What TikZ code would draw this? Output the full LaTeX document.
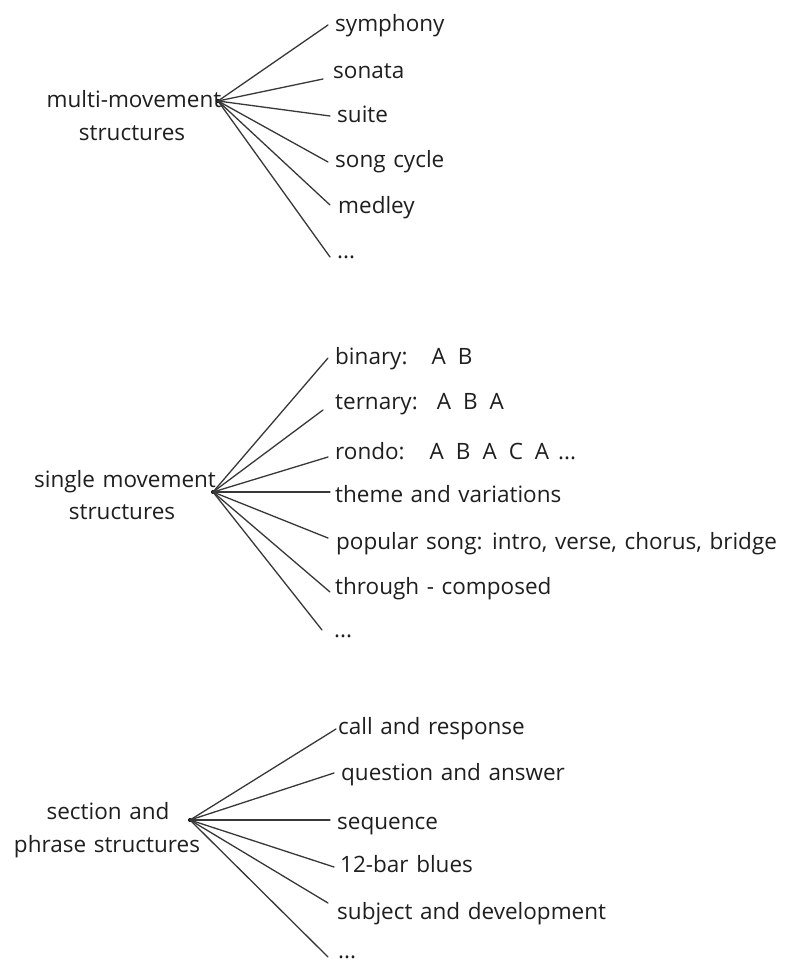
\documentclass[tikz,border=0pt]{standalone}
\usepackage{fontspec}
\setmainfont{Open Sans}[WordSpace=1.3]
\newcommand{\lsp}{\hspace{12pt}}
\begin{document}
\begin{tikzpicture}[x=1pt,y=-1pt,
  lbl/.style={anchor=base west,inner sep=0pt,font=\fontsize{22.5}{26}\selectfont,text=black!88},
  grp/.style={anchor=base,inner sep=0pt,font=\fontsize{22.5}{26}\selectfont,text=black!88},
  con/.style={draw=black!78,line width=1.3pt,line cap=round},
  hubdot/.style={circle,fill=black,inner sep=0pt,minimum size=4pt}]
\useasboundingbox (0,0) rectangle (785,963);
\fill[white] (0,0) rectangle (785,963);

% group 1
\node[hubdot] (h1) at (218,101) {};
\node[grp] (g1a) at (134,107) {multi-movement};
\node[grp] (g1b) at (132,140) {structures};
\node[lbl] (sym) at (335,32) {symphony};
\node[lbl] (son) at (333,79) {sonata};
\node[lbl] (sui) at (337,122) {suite};
\node[lbl] (scy) at (335,167) {song cycle};
\node[lbl] (med) at (338,213) {medley};
\node[lbl] (da) at (337,258) {...};
\draw[con] (h1.center) -- ([xshift=-7pt,yshift=7pt]sym.base west);
\draw[con] (h1.center) -- ([xshift=-10pt]son.base west);
\draw[con] (h1.center) -- ([xshift=-7pt,yshift=6pt]sui.base west);
\draw[con] (h1.center) -- ([xshift=-7pt,yshift=5pt]scy.base west);
\draw[con] (h1.center) -- ([xshift=-8pt,yshift=8pt]med.base west);
\draw[con] (h1.center) -- ([xshift=-7pt,yshift=1pt]da.base west);

% group 2
\node[hubdot] (h2) at (213,492) {};
\node[grp] (g2a) at (125,487) {single movement};
\node[grp] (g2b) at (122,519) {structures};
\node[lbl] (bin) at (335,364) {binary:\hspace{24pt}A\lsp B};
\node[lbl] (ter) at (335,409) {ternary:\hspace{19pt}A\lsp B\lsp A};
\node[lbl] (ron) at (335,459) {rondo:\hspace{25pt}A\lsp B\lsp A\lsp C\lsp A\hspace{9pt}...};
\node[lbl] (the) at (335,502) {theme and variations};
\node[lbl] (pop) at (336,549) {popular song: intro, verse, chorus, bridge};
\node[lbl] (thr) at (335,594) {through - composed};
\node[lbl] (db) at (334,637) {...};
\draw[con] (h2.center) -- ([xshift=-7pt,yshift=6pt]bin.base west);
\draw[con] (h2.center) -- ([xshift=-12pt,yshift=-1pt]ter.base west);
\draw[con] (h2.center) -- ([xshift=-7pt,yshift=2pt]ron.base west);
\draw[con] (h2.center) -- ([xshift=-5pt,yshift=10pt]the.base west);
\draw[con] (h2.center) -- ([xshift=-8pt,yshift=11pt]pop.base west);
\draw[con] (h2.center) -- ([xshift=-5pt,yshift=2pt]thr.base west);
\draw[con] (h2.center) -- ([xshift=-12pt,yshift=7pt]db.base west);

% group 3
\node[hubdot] (h3) at (190,820) {};
\node[grp] (g3a) at (108,819) {section and};
\node[grp] (g3b) at (107,852) {phrase structures};
\node[lbl] (cal) at (338,734) {call and response};
\node[lbl] (que) at (341,780) {question and answer};
\node[lbl] (seq) at (337,829) {sequence};
\node[lbl] (bar) at (340,872) {12-bar blues};
\node[lbl] (sub) at (337,919) {subject and development};
\node[lbl] (dc) at (338,958) {...};
\draw[con] (h3.center) -- ([xshift=-2pt,yshift=5pt]cal.base west);
\draw[con] (h3.center) -- ([xshift=-7pt,yshift=7pt]que.base west);
\draw[con] (h3.center) -- ([xshift=-7pt,yshift=9pt]seq.base west);
\draw[con] (h3.center) -- ([xshift=-6pt,yshift=5pt]bar.base west);
\draw[con] (h3.center) -- ([xshift=-9pt,yshift=16pt]sub.base west);
\draw[con] (h3.center) -- ([xshift=-10pt,yshift=1pt]dc.base west);
\end{tikzpicture}
\end{document}
